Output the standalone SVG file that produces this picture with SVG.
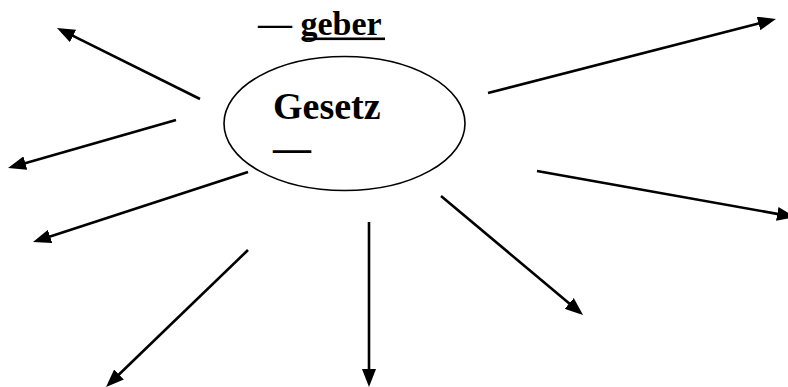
<svg xmlns="http://www.w3.org/2000/svg" width="788" height="387" viewBox="0 0 788 387">
<style>
.t{font-family:"Liberation Serif","Times New Roman",serif;font-weight:bold;fill:#000}
.c line{stroke:#000;stroke-width:2.6;marker-end:url(#ah)}
</style>
<defs>
<marker id="ah" markerUnits="userSpaceOnUse" markerWidth="18" markerHeight="14" refX="4" refY="7" orient="auto">
<path d="M0,0 L18,7 L0,14 z" fill="#000"/>
</marker>
</defs>
<rect width="788" height="387" fill="#fff"/>
<g id="label-geber">
<text class="t" x="258" y="35" font-size="34">— <tspan>geber</tspan></text>
<rect x="303" y="37.5" width="82" height="2.6" fill="#000"/>
</g>
<g id="node-gesetz">
<ellipse cx="344.5" cy="123.5" rx="120.5" ry="67" fill="#fff" stroke="#000" stroke-width="1.6"/>
<text class="t" x="273" y="119" font-size="38">Gesetz</text>
<text class="t" x="273" y="161" font-size="38">—</text>
</g>
<g id="connectors" class="c">
<line x1="200" y1="99" x2="69.5" y2="34.2"/>
<line x1="176" y1="120" x2="21.5" y2="164.2"/>
<line x1="248" y1="172" x2="46.3" y2="237.7"/>
<line x1="248" y1="250" x2="116.1" y2="377.3"/>
<line x1="369" y1="222" x2="369" y2="373"/>
<line x1="441" y1="196" x2="572.3" y2="306"/>
<line x1="488" y1="93" x2="762.4" y2="22.5"/>
<line x1="537" y1="171" x2="781.2" y2="214.6"/>
</g>
</svg>
